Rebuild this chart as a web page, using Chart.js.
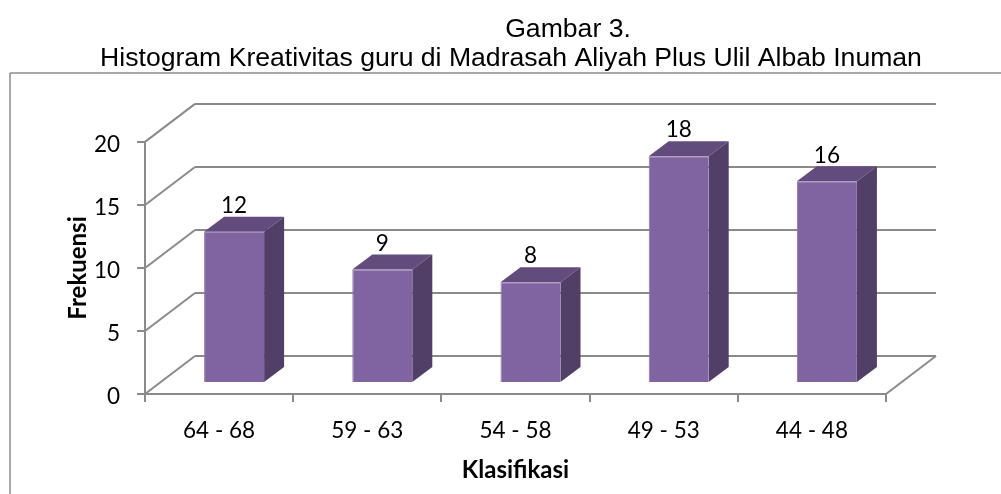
<!DOCTYPE html>
<html>
<head>
<meta charset="utf-8">
<title>Histogram Kreativitas guru</title>
<script src="https://cdn.jsdelivr.net/npm/chart.js@4/dist/chart.umd.min.js"></script>
<style>
  html, body { margin: 0; padding: 0; background: #fff; overflow: hidden; }
  canvas { display: block; }
</style>
</head>
<body>
<canvas id="myChart" width="1001" height="494"></canvas>
<script>
var categories = ['64 - 68', '59 - 63', '54 - 58', '49 - 53', '44 - 48'];
var frekuensi = [12, 9, 8, 18, 16];
var judul1 = 'Gambar 3.';
var judul2 = 'Histogram Kreativitas guru di Madrasah Aliyah Plus Ulil Albab Inuman';

var GRID = '#8a8a8a';
var FRONT = '#8064a2', TOP = '#624c7e', SIDE = '#523f68';
// depth of the fake 3d box, and how far the bars stand in from the front edge
var WALL_X = 50, WALL_Y = 38;
var BAR_X = 15, BAR_Y = 11;
var SIDE_X = 20, SIDE_Y = 15;

function line(ctx, x1, y1, x2, y2) {
    ctx.beginPath();
    ctx.moveTo(x1, y1);
    ctx.lineTo(x2, y2);
    ctx.stroke();
}

function poly(ctx, pts, color) {
    ctx.fillStyle = color;
    ctx.beginPath();
    pts.forEach(function (p, i) {
        if (i == 0) ctx.moveTo(p[0], p[1]);
        else ctx.lineTo(p[0], p[1]);
    });
    ctx.closePath();
    ctx.fill();
}

var box3d = {
    id: 'box3d',
    afterLayout: function (chart) {
        // centre the heading where the page had it, not over the plot
        chart.titleBlock.left = 21;
        chart.titleBlock.right = 1001;
    },
    beforeDraw: function (chart) {
        // frame round the picture, open at right and bottom
        var ctx = chart.ctx;
        ctx.save();
        ctx.strokeStyle = '#8c8c8c';
        ctx.lineWidth = 1.5;
        line(ctx, 10, 494, 10, 73);
        line(ctx, 10, 73, 1001, 73);
        // first heading line is not centred on the second one
        ctx.fillStyle = '#000';
        ctx.font = '26.6px "Liberation Sans"';
        ctx.textAlign = 'center';
        ctx.textBaseline = 'alphabetic';
        ctx.fillText(judul1, 568, 37);
        ctx.restore();
    },
    beforeDatasetsDraw: function (chart) {
        var ctx = chart.ctx, a = chart.chartArea, y = chart.scales.y;
        ctx.save();
        ctx.strokeStyle = GRID;
        ctx.lineWidth = 2;
        y.ticks.forEach(function (t) {
            var py = y.getPixelForValue(t.value);
            line(ctx, a.left, py, a.left + WALL_X, py - WALL_Y);
            line(ctx, a.left + WALL_X, py - WALL_Y, a.right + WALL_X, py - WALL_Y);
        });
        line(ctx, a.right, a.bottom, a.right + WALL_X, a.bottom - WALL_Y);
        // top and side faces sit behind the front drawn by the library
        chart.getDatasetMeta(0).data.forEach(function (bar) {
            var l = bar.x - bar.width / 2 + BAR_X, r = bar.x + bar.width / 2 + BAR_X;
            var t = bar.y - BAR_Y, b = bar.base - BAR_Y;
            poly(ctx, [[l, t], [r, t], [r + SIDE_X, t - SIDE_Y], [l + SIDE_X, t - SIDE_Y]], TOP);
            poly(ctx, [[r, t], [r + SIDE_X, t - SIDE_Y], [r + SIDE_X, b - SIDE_Y], [r, b]], SIDE);
        });
        ctx.restore();
    },
    beforeDatasetDraw: function (chart) {
        chart.ctx.save();
        chart.ctx.translate(BAR_X, -BAR_Y);
    },
    afterDatasetDraw: function (chart) {
        chart.ctx.restore();
    },
    afterDatasetsDraw: function (chart) {
        var ctx = chart.ctx;
        ctx.save();
        ctx.fillStyle = '#000';
        ctx.font = '22.5px Lato';
        ctx.textAlign = 'center';
        ctx.textBaseline = 'middle';
        chart.getDatasetMeta(0).data.forEach(function (bar, i) {
            ctx.fillText(frekuensi[i], bar.x + BAR_X, bar.y - BAR_Y - 26);
        });
        ctx.restore();
    }
};

new Chart(document.getElementById('myChart'), {
    type: 'bar',
    data: {
        labels: categories,
        datasets: [{
            data: frekuensi,
            backgroundColor: FRONT,
            borderColor: '#8e78ad',
            borderWidth: { left: 1, bottom: 1, top: 1, right: 0 },
            clip: false,
            barPercentage: 0.405,
            categoryPercentage: 1
        }]
    },
    plugins: [box3d],
    options: {
        responsive: false,
        animation: false,
        layout: { padding: { right: 115 } },
        plugins: {
            legend: { display: false },
            tooltip: { enabled: false },
            title: {
                display: true,
                text: judul2,
                color: '#000',
                font: { family: 'Liberation Sans', size: 26.6, weight: 'normal', lineHeight: 1.2 },
                padding: { top: 42.5, bottom: 67.5 }
            }
        },
        scales: {
            x: {
                afterFit: function (s) { s.height = 100; },
                grid: { drawOnChartArea: false, color: GRID, lineWidth: 2, tickLength: 8 },
                border: { color: GRID, width: 2 },
                ticks: { color: '#000', font: { family: 'Lato', size: 22.5 }, padding: 15, maxRotation: 0 },
                title: {
                    display: true,
                    text: 'Klasifikasi',
                    color: '#000',
                    font: { family: 'Lato', size: 24, weight: 'bold' },
                    padding: { top: 0, bottom: 9.5 }
                }
            },
            y: {
                min: 0,
                max: 20,
                afterFit: function (s) { s.width = 145; },
                grid: { drawOnChartArea: false, color: GRID, lineWidth: 2, tickLength: 8 },
                border: { color: GRID, width: 2 },
                ticks: { stepSize: 5, color: '#000', font: { family: 'Lato', size: 22.5 }, padding: 17, labelOffset: 3 },
                title: {
                    display: true,
                    text: 'Frekuensi',
                    color: '#000',
                    font: { family: 'Lato', size: 24, weight: 'bold' },
                    padding: { top: 64, bottom: 0 }
                }
            }
        }
    }
});
</script>
</body>
</html>
